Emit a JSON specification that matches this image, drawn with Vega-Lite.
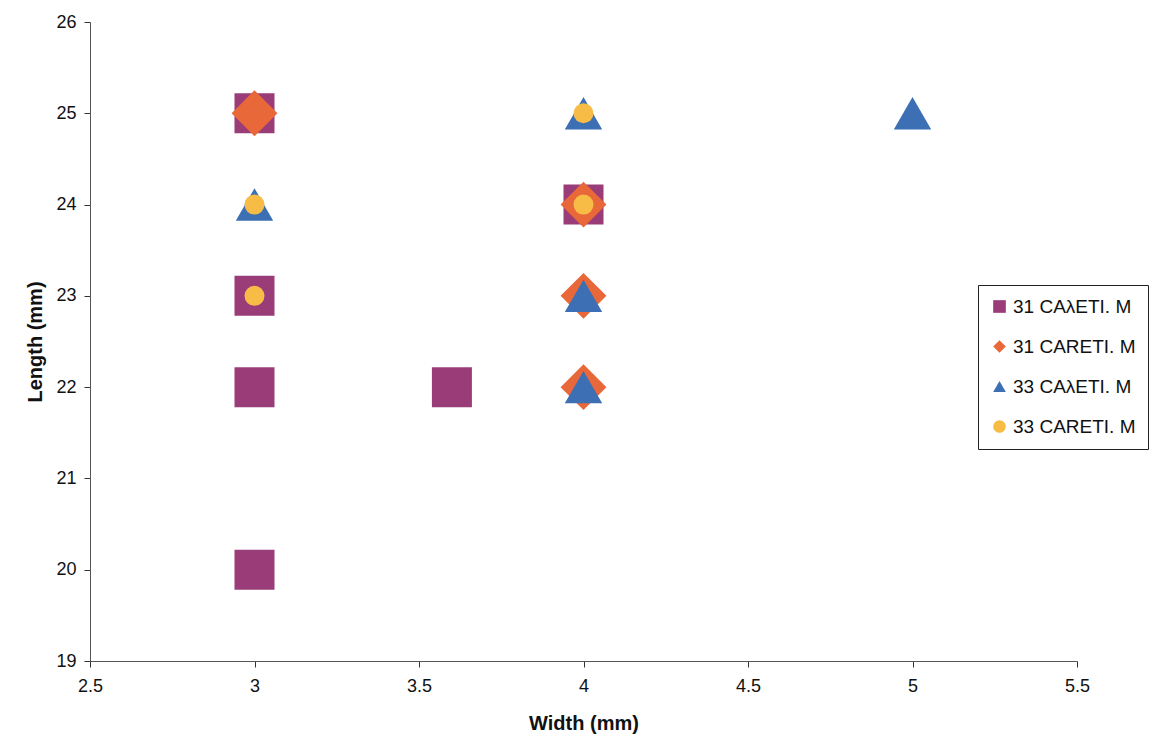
{
  "$schema": "https://vega.github.io/schema/vega-lite/v6.json",
  "width": 987,
  "height": 639,
  "autosize": {"type": "none"},
  "padding": {"left": 90, "top": 22, "right": 86, "bottom": 88},
  "background": "white",
  "config": {
    "view": {"stroke": null},
    "font": "Liberation Sans",
    "axis": {"grid": false, "domainColor": "#555555", "tickColor": "#333333", "labelColor": "#111111", "titleColor": "#111111", "labelFont": "Liberation Sans", "titleFont": "Liberation Sans"}
  },
  "data": {
    "values": [
      {"series": "31 CAλETI. M", "width": 3, "length": 25},
      {"series": "31 CAλETI. M", "width": 3, "length": 23},
      {"series": "31 CAλETI. M", "width": 3, "length": 22},
      {"series": "31 CAλETI. M", "width": 3.6, "length": 22},
      {"series": "31 CAλETI. M", "width": 3, "length": 20},
      {"series": "31 CAλETI. M", "width": 4, "length": 24},
      {"series": "31 CARETI. M", "width": 3, "length": 25},
      {"series": "31 CARETI. M", "width": 4, "length": 24},
      {"series": "31 CARETI. M", "width": 4, "length": 23},
      {"series": "31 CARETI. M", "width": 4, "length": 22},
      {"series": "33 CAλETI. M", "width": 4, "length": 25},
      {"series": "33 CAλETI. M", "width": 3, "length": 24},
      {"series": "33 CAλETI. M", "width": 4, "length": 23},
      {"series": "33 CAλETI. M", "width": 4, "length": 22},
      {"series": "33 CAλETI. M", "width": 5, "length": 25},
      {"series": "33 CARETI. M", "width": 4, "length": 25},
      {"series": "33 CARETI. M", "width": 3, "length": 24},
      {"series": "33 CARETI. M", "width": 3, "length": 23},
      {"series": "33 CARETI. M", "width": 4, "length": 24}
    ]
  },
  "encoding": {
    "x": {
      "field": "width", "type": "quantitative",
      "scale": {"domain": [2.5, 5.5], "nice": false, "zero": false},
      "axis": {"title": "Width (mm)", "values": [2.5, 3, 3.5, 4, 4.5, 5, 5.5], "format": "~g", "labelFontSize": 18, "labelPadding": 10, "titleFontSize": 20, "titleFontWeight": "bold", "titlePadding": 18, "tickSize": 6, "labelFlush": false}
    },
    "y": {
      "field": "length", "type": "quantitative",
      "scale": {"domain": [19, 26], "nice": false, "zero": false},
      "axis": {"title": "Length (mm)", "values": [19, 20, 21, 22, 23, 24, 25, 26], "labelFontSize": 18, "labelPadding": 8, "titleFontSize": 20, "titleFontWeight": "bold", "titlePadding": 10, "tickSize": 6}
    },
    "color": {
      "field": "series", "type": "nominal",
      "scale": {"domain": ["31 CAλETI. M", "31 CARETI. M", "33 CAλETI. M", "33 CARETI. M"], "range": ["#993C78", "#E8683A", "#3D6FB4", "#F7BC45"]},
      "legend": {
        "title": null, "orient": "none", "legendX": 888, "legendY": 263,
        "strokeColor": "#222222", "padding": 12, "labelFontSize": 19, "labelColor": "#111111",
        "symbolSize": 160, "rowPadding": 20, "labelFont": "Liberation Sans", "fillColor": "white", "symbolOpacity": 1
      }
    },
    "shape": {
      "field": "series", "type": "nominal",
      "scale": {"domain": ["31 CAλETI. M", "31 CARETI. M", "33 CAλETI. M", "33 CARETI. M"], "range": ["square", "diamond", "triangle-up", "circle"]}
    }
  },
  "layer": [
    {"transform": [{"filter": "datum.series === '31 CAλETI. M'"}], "mark": {"type": "point", "filled": true, "opacity": 1, "size": 1600}},
    {"transform": [{"filter": "datum.series === '31 CARETI. M'"}], "mark": {"type": "point", "filled": true, "opacity": 1, "size": 2100}},
    {"transform": [{"filter": "datum.series === '33 CAλETI. M'"}], "mark": {"type": "point", "filled": true, "opacity": 1, "size": 1400}},
    {"transform": [{"filter": "datum.series === '33 CARETI. M'"}], "mark": {"type": "point", "filled": true, "opacity": 1, "size": 400}}
  ]
}
